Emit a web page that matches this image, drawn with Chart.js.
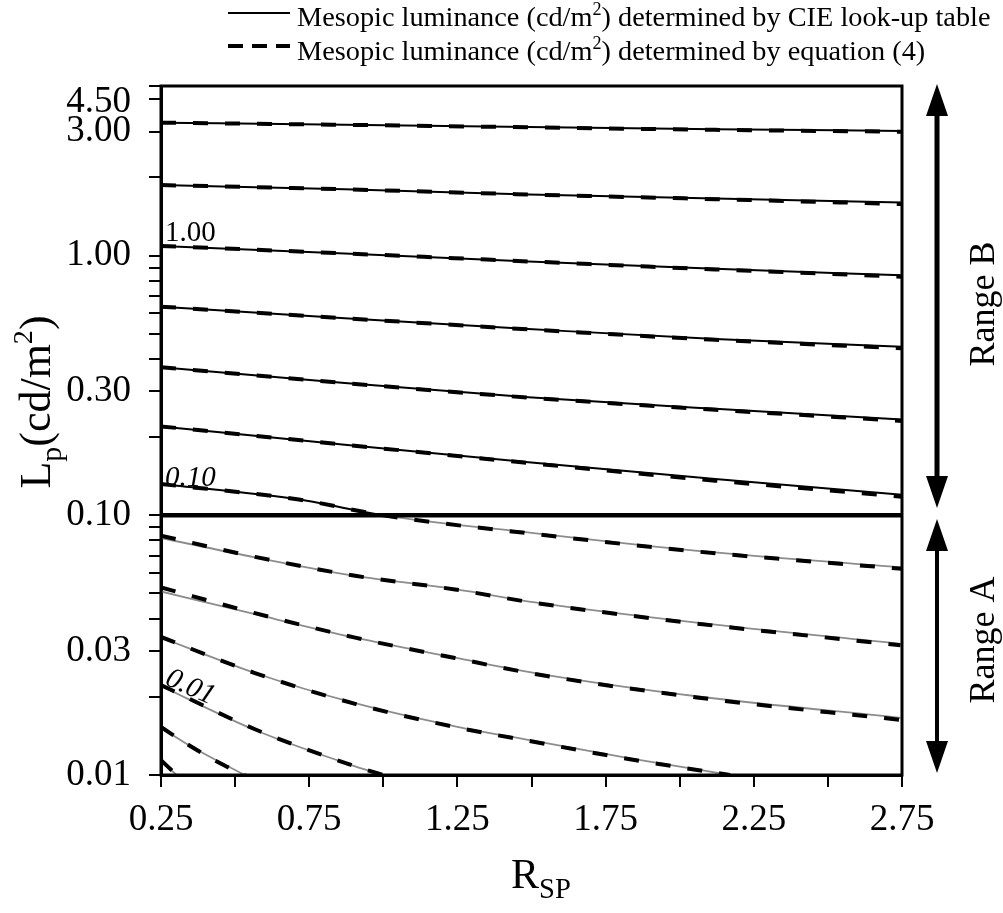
<!DOCTYPE html>
<html>
<head>
<meta charset="utf-8">
<script src="https://cdn.jsdelivr.net/npm/chart.js@4.4.0/dist/chart.umd.min.js"></script>
<style>
  html, body { margin: 0; padding: 0; background: #fff; }
  #wrap { position: relative; width: 1003px; height: 913px; }
</style>
</head>
<body>
<div id="wrap"><canvas id="grafico"></canvas></div>
<script>
// ====== DADOS ======
// Range B: R_SP onde cada contorno foi lido
const rspB = [0.25, 0.87, 1.49, 2.12, 2.75];
// L_p (cd/m2) - tabela CIE (linha cheia) e equacao (4) (tracejada)
const cie316 = [3.25, 3.19, 3.13, 3.07, 3.02];
const eq316  = [3.25, 3.19, 3.12, 3.05, 3.00];
const cie178 = [1.87, 1.80, 1.72, 1.66, 1.60];
const eq178  = [1.87, 1.80, 1.72, 1.65, 1.58];
const cie100 = [1.09, 1.02, 0.95, 0.89, 0.84];
const eq100  = [1.09, 1.02, 0.95, 0.885, 0.83];
const cie056 = [0.636, 0.574, 0.522, 0.477, 0.446];
const eq056  = [0.636, 0.574, 0.520, 0.474, 0.440];
const cie032 = [0.372, 0.323, 0.285, 0.257, 0.234];
const eq032  = [0.372, 0.323, 0.284, 0.255, 0.231];
const cie018 = [0.220, 0.187, 0.160, 0.138, 0.120];
const eq018  = [0.220, 0.187, 0.159, 0.136, 0.118];

// contorno 0.10 - passa do Range B para o Range A
const rsp010 = [0.25, 0.715, 1.0, 1.5, 2.06, 2.75];
const cie010 = [0.132, 0.115, 0.100, 0.0856, 0.0730, 0.0630];
const eq010  = [0.132, 0.115, 0.100, 0.0850, 0.0725, 0.0622];

// Range A
const rspA = [0.25, 0.567, 0.905, 1.242, 1.512, 2.057, 2.745];
const cie0056 = [0.0818, 0.0689, 0.0585, 0.0520, 0.0462, 0.0386, 0.0320];
const eq0056  = [0.0835, 0.0692, 0.0585, 0.0518, 0.0460, 0.0383, 0.0316];
const cie0032 = [0.0509, 0.0416, 0.0338, 0.0283, 0.0247, 0.0201, 0.0166];
const eq0032  = [0.0528, 0.0420, 0.0338, 0.0282, 0.0245, 0.0199, 0.0163];
const rsp0018 = [0.25, 0.567, 0.905, 1.242, 1.512, 1.832, 2.17];
const cie0018 = [0.0338, 0.0247, 0.0189, 0.0154, 0.0135, 0.0116, 0.0100];
const eq0018  = [0.0340, 0.0247, 0.0188, 0.0153, 0.0134, 0.0115, 0.0100];
const rsp001 = [0.25, 0.567, 0.905, 1.0];
const cie001 = [0.0220, 0.0149, 0.0108, 0.0100];
const eq001  = [0.0222, 0.0150, 0.0108, 0.0100];
const rsp00056 = [0.25, 0.35, 0.463, 0.533];
const cie00056 = [0.0152, 0.0129, 0.0110, 0.0100];
const eq00056  = [0.0153, 0.0129, 0.0109, 0.0100];
const rsp00032 = [0.25, 0.303];
const cie00032 = [0.0113, 0.0100];
const eq00032  = [0.0114, 0.0100];

// limite entre Range A e Range B
const rspLimite = [0.25, 2.75];
const lpLimite = [0.1, 0.1];

// eixos
const rotulosX = ['0.25', '0.75', '1.25', '1.75', '2.25', '2.75'];
const valoresY = [0.01, 0.03, 0.1, 0.3, 1, 3, 4.5];
const rotulosY = ['0.01', '0.03', '0.10', '0.30', '1.00', '3.00', '4.50'];
const menoresY = [0.02, 0.04, 0.05, 0.06, 0.07, 0.08, 0.09, 0.2, 0.4, 0.5, 0.6, 0.7, 0.8, 0.9, 2, 4];

const FONTE = '"Liberation Serif", "Times New Roman", serif';

function pontos(xs, ys) {
    return xs.map(function (x, i) { return { x: x, y: ys[i] }; });
}

// linha cheia: preta no Range B, cinza no Range A
function noRangeA(ctx) {
    return ctx.p0.parsed.y < 0.1001 && ctx.p1.parsed.y < 0.1001;
}

const contornos = [
    [rspB, cie316, eq316], [rspB, cie178, eq178], [rspB, cie100, eq100],
    [rspB, cie056, eq056], [rspB, cie032, eq032], [rspB, cie018, eq018],
    [rsp010, cie010, eq010],
    [rspA, cie0056, eq0056], [rspA, cie0032, eq0032], [rsp0018, cie0018, eq0018],
    [rsp001, cie001, eq001], [rsp00056, cie00056, eq00056], [rsp00032, cie00032, eq00032]
];

var datasets = [];
contornos.forEach(function (c) {
    datasets.push({
        data: pontos(c[0], c[1]),
        borderColor: '#000',
        borderWidth: 2,
        order: 2,
        segment: {
            borderColor: function (ctx) { return noRangeA(ctx) ? '#8c8c8c' : '#000'; },
            borderWidth: function (ctx) { return noRangeA(ctx) ? 1.8 : 2; }
        }
    });
    datasets.push({
        data: pontos(c[0], c[2]),
        borderColor: '#000',
        borderWidth: 4,
        borderDash: [15, 17],
        order: 1
    });
});
datasets.push({
    data: pontos(rspLimite, lpLimite),
    borderColor: '#000',
    borderWidth: 4.5,
    order: 0
});

// texto com sobrescrito / subscrito
function textoRico(ctx, partes, x, y, tam) {
    partes.forEach(function (p) {
        var t = tam, dy = 0;
        if (p[1] === 1) { t = tam * 0.64; dy = -tam * 0.4; }
        if (p[1] === -1) { t = tam * 0.68; dy = tam * 0.24; }
        ctx.font = t + 'px ' + FONTE;
        ctx.fillText(p[0], x, y + dy);
        x += ctx.measureText(p[0]).width;
    });
    return x;
}

function larguraRica(ctx, partes, tam) {
    var w = 0;
    partes.forEach(function (p) {
        var t = p[1] === 1 ? tam * 0.64 : (p[1] === -1 ? tam * 0.68 : tam);
        ctx.font = t + 'px ' + FONTE;
        w += ctx.measureText(p[0]).width;
    });
    return w;
}

function flecha(ctx, x, y1, y2, w, hw, hh) {
    ctx.lineWidth = w;
    ctx.beginPath();
    ctx.moveTo(x, y1 + hh - 2);
    ctx.lineTo(x, y2 - hh + 2);
    ctx.stroke();
    ctx.beginPath();
    ctx.moveTo(x, y1); ctx.lineTo(x - hw / 2, y1 + hh); ctx.lineTo(x + hw / 2, y1 + hh);
    ctx.closePath(); ctx.fill();
    ctx.beginPath();
    ctx.moveTo(x, y2); ctx.lineTo(x - hw / 2, y2 - hh); ctx.lineTo(x + hw / 2, y2 - hh);
    ctx.closePath(); ctx.fill();
}

const extras = {
    id: 'extras',
    afterDraw: function (chart) {
        var ctx = chart.ctx, a = chart.chartArea;
        var sx = chart.scales.x, sy = chart.scales.y;
        ctx.save();
        ctx.fillStyle = '#000';
        ctx.strokeStyle = '#000';

        // moldura
        ctx.lineWidth = 3;
        ctx.strokeRect(a.left, a.top, a.right - a.left, a.bottom - a.top);

        // rotulo 4.50 (deslocado para baixo como no original)
        ctx.font = '37px ' + FONTE;
        ctx.textAlign = 'right';
        ctx.textBaseline = 'middle';
        ctx.fillText(rotulosY[6], a.left - 30, sy.getPixelForValue(valoresY[6]) + 16);

        // rotulos dos contornos
        ctx.textAlign = 'left';
        ctx.textBaseline = 'alphabetic';
        ctx.font = '29px ' + FONTE;
        ctx.fillText('1.00', sx.getPixelForValue(rspB[0]) + 4, sy.getPixelForValue(cie100[0]) - 5);
        ctx.font = 'italic 29px ' + FONTE;
        ctx.fillText('0.10', sx.getPixelForValue(rsp010[0]) + 4, sy.getPixelForValue(cie010[0]) + 2);
        ctx.save();
        ctx.translate(sx.getPixelForValue(rsp001[0]) + 3, sy.getPixelForValue(cie001[0]) - 2);
        ctx.rotate(0.42);
        ctx.fillText('0.01', 0, 0);
        ctx.restore();

        // legenda
        ctx.lineWidth = 2;
        ctx.beginPath(); ctx.moveTo(228, 13); ctx.lineTo(290, 13); ctx.stroke();
        ctx.lineWidth = 4;
        ctx.setLineDash([15, 9]);
        ctx.beginPath(); ctx.moveTo(228, 46); ctx.lineTo(290, 46); ctx.stroke();
        ctx.setLineDash([]);
        textoRico(ctx, [['Mesopic luminance (cd/m', 0], ['2', 1], [') determined by CIE look-up table', 0]], 297, 26, 28.3);
        textoRico(ctx, [['Mesopic luminance (cd/m', 0], ['2', 1], [') determined by equation (4)', 0]], 297, 60, 28.3);

        // titulo eixo y
        var partesY = [['L', 0], ['p', -1], ['(cd/m', 0], ['2', 1], [')', 0]];
        ctx.save();
        ctx.translate(50, 402);
        ctx.rotate(-Math.PI / 2);
        textoRico(ctx, partesY, -larguraRica(ctx, partesY, 44) / 2, 0, 44);
        ctx.restore();

        // titulo eixo x
        textoRico(ctx, [['R', 0], ['SP', -1]], 511, 888, 42);

        // setas e ranges
        flecha(ctx, 937, 84, 508, 5, 22, 32);
        flecha(ctx, 937, 519, 773, 4, 22, 32);
        ctx.font = '36px ' + FONTE;
        ctx.textAlign = 'center';
        ctx.textBaseline = 'middle';
        ctx.save(); ctx.translate(985, 304); ctx.rotate(-Math.PI / 2); ctx.fillText('Range B', 0, 0); ctx.restore();
        ctx.save(); ctx.translate(985, 640); ctx.rotate(-Math.PI / 2); ctx.fillText('Range A', 0, 0); ctx.restore();

        ctx.restore();
    }
};

// ====== GRAFICO ======
var ctxGrafico = document.getElementById('grafico').getContext('2d');
var grafico = new Chart(ctxGrafico, {
    type: 'line',
    data: { datasets: datasets },
    plugins: [extras],
    options: {
        responsive: true,
        maintainAspectRatio: false,
        animation: false,
        layout: { padding: { top: 86, right: 101, bottom: 0, left: 0 } },
        plugins: {
            legend: { display: false },
            tooltip: { enabled: false }
        },
        elements: {
            point: { radius: 0 },
            line: { cubicInterpolationMode: 'monotone', fill: false }
        },
        scales: {
            x: {
                type: 'linear',
                min: 0.25,
                max: 2.75,
                afterFit: function (s) { s.height = 138; },
                border: { display: true, color: '#000', width: 3 },
                grid: { drawOnChartArea: false, color: '#000', lineWidth: 2, tickLength: 12 },
                ticks: {
                    stepSize: 0.25,
                    autoSkip: false,
                    maxRotation: 0,
                    color: '#000',
                    padding: 11,
                    font: { family: FONTE, size: 37 },
                    callback: function (v) {
                        var s = Number(v).toFixed(2);
                        return rotulosX.indexOf(s) >= 0 ? s : '';
                    }
                }
            },
            y: {
                type: 'logarithmic',
                min: 0.01,
                max: 4.5,
                afterFit: function (s) { s.width = 161; },
                afterBuildTicks: function (s) {
                    s.ticks = valoresY.concat(menoresY).sort(function (p, q) { return p - q; })
                        .map(function (v) { return { value: v }; });
                },
                border: { display: true, color: '#000', width: 3 },
                grid: { drawOnChartArea: false, color: '#000', lineWidth: 2, tickLength: 12 },
                ticks: {
                    autoSkip: false,
                    color: '#000',
                    padding: 18,
                    font: { family: FONTE, size: 37 },
                    callback: function (v) {
                        var i = valoresY.indexOf(v);
                        return (i >= 0 && i < 6) ? rotulosY[i] : '';
                    }
                }
            }
        }
    }
});
</script>
</body>
</html>
